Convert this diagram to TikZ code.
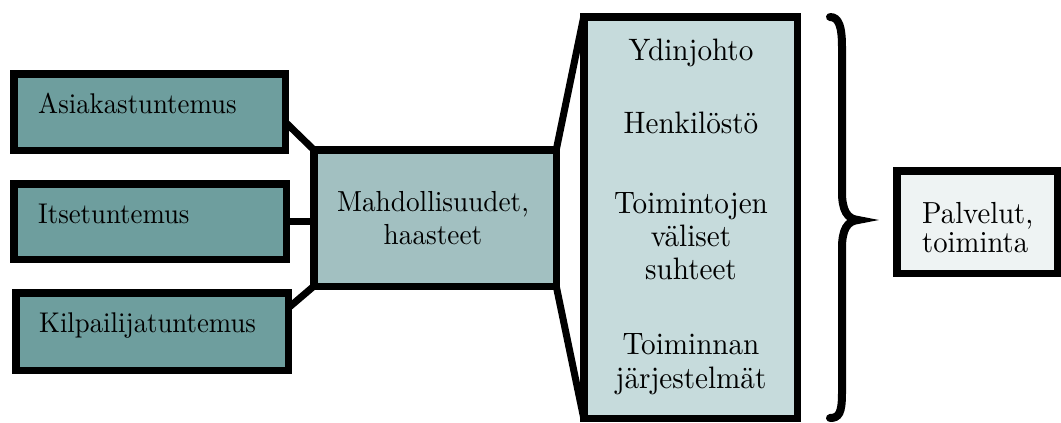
\documentclass[tikz,border=0pt]{standalone}
\usepackage{fontspec}
\setmainfont{lmroman10-regular.otf}[FakeStretch=0.94]
\usetikzlibrary{calc}
\definecolor{tealdark}{RGB}{110,158,158}
\definecolor{tealmid}{RGB}{162,192,193}
\definecolor{teallight}{RGB}{198,219,220}
\definecolor{tealpale}{RGB}{238,243,243}
\begin{document}
\begin{tikzpicture}[x=1pt,y=-1pt,
  box/.style={draw=black, line width=7.5pt, inner sep=0pt, outer sep=0pt, rectangle},
  conn/.style={draw=black, line width=7pt},
  lefttxt/.style={anchor=base west, inner sep=0pt, font=\fontsize{28.5}{30}\selectfont},
  midtxt/.style={anchor=base, inner sep=0pt, font=\fontsize{29}{30}\selectfont},
  talltxt/.style={anchor=base, inner sep=0pt, font=\fontsize{31}{32}\selectfont},
  righttxt/.style={anchor=base west, inner sep=0pt, font=\fontsize{30.5}{32}\selectfont}]
\useasboundingbox (0,0) rectangle (1061,423);

% knowledge boxes on the left
\node[box, fill=tealdark, minimum width=271.5pt, minimum height=76.5pt] (A) at (149.5,112) {};
\node[box, fill=tealdark, minimum width=272.5pt, minimum height=75.5pt] (I) at (150,221.5) {};
\node[box, fill=tealdark, minimum width=272.5pt, minimum height=77.5pt] (K) at (152,331.5) {};
\node[lefttxt] (At) at (38,113) {Asiakastuntemus};
\node[lefttxt] (It) at (38,223) {Itsetuntemus};
\node[lefttxt] (Kt) at (39,332) {Kilpailijatuntemus};

% opportunities box
\node[box, fill=tealmid, minimum width=242.5pt, minimum height=136.5pt] (M) at (435,218) {};
\node[midtxt] (Mt1) at (433,211) {Mahdollisuudet,};
\node[midtxt] (Mt2) at (433,244) {haasteet};

% tall box with the areas
\node[box, fill=teallight, minimum width=213.5pt, minimum height=401.5pt] (T) at (690.5,217.5) {};
\node[talltxt] (T1) at (691,60) {Ydinjohto};
\node[talltxt] (T2) at (691,133) {Henkilöstö};
\node[talltxt] (T3) at (691,213) {Toimintojen};
\node[talltxt] (T4) at (691,246) {väliset};
\node[talltxt] (T5) at (691,279) {suhteet};
\node[talltxt] (T6) at (691,354) {Toiminnan};
\node[talltxt] (T7) at (691,388) {järjestelmät};

% result box
\node[box, fill=tealpale, minimum width=160.5pt, minimum height=102.5pt] (P) at (977,222) {};
\node[righttxt] (P1) at (922,223) {Palvelut,};
\node[righttxt] (P2) at (922,252) {toiminta};

% connectors
\draw[conn] ($(A.east)+(0,10)$) -- (M.north west);
\draw[conn] (I.east) -- (I.east -| M.west);
\draw[conn] ($(K.east)+(0,-23.5)$) -- (M.south west);
\draw[conn] (M.north east) -- (T.north west);
\draw[conn] (M.south east) -- (T.south west);

% curly brace
\draw[line width=8pt, line cap=round]
  (830,17) .. controls (839,17) and (842,27) .. (842,47)
  -- (842,192) .. controls (842,210) and (847,219) .. (858,220)
  .. controls (847,221) and (842,230) .. (842,248)
  -- (842,393) .. controls (842,413) and (839,418) .. (830,418);
\end{tikzpicture}
\end{document}
